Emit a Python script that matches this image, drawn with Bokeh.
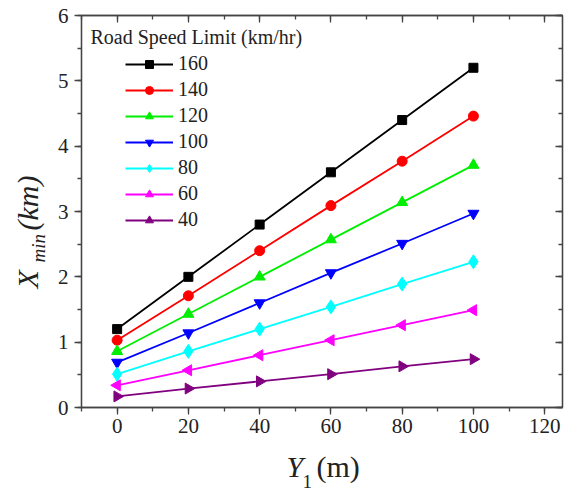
import math
from bokeh.plotting import figure
from bokeh.layouts import column, row
from bokeh.models import (Range1d, LinearAxis, SingleIntervalTicker, Label, Legend, LegendItem,
                          CustomLabelingPolicy)
from bokeh.embed import file_html
from bokeh.resources import INLINE

# ---- data ----
y1_m = [0, 20, 40, 60, 80, 100]
speed_labels = ["160", "140", "120", "100", "80", "60", "40"]
xmin_160 = [1.20, 2.00, 2.80, 3.60, 4.40, 5.20]
xmin_140 = [1.03, 1.71, 2.40, 3.09, 3.77, 4.46]
xmin_120 = [0.86, 1.43, 2.00, 2.57, 3.14, 3.71]
xmin_100 = [0.69, 1.14, 1.60, 2.06, 2.51, 2.97]
xmin_80 = [0.51, 0.86, 1.20, 1.54, 1.89, 2.23]
xmin_60 = [0.34, 0.57, 0.80, 1.03, 1.26, 1.49]
xmin_40 = [0.17, 0.29, 0.40, 0.51, 0.63, 0.74]
series = [xmin_160, xmin_140, xmin_120, xmin_100, xmin_80, xmin_60, xmin_40]
x_ticks_interval = 20
y_ticks_interval = 1

# ---- style ----
colors = ["#000000", "#FF0000", "#00EE00", "#0000FF", "#00FFFF", "#FF00FF", "#800080"]
markers = ["square", "circle", "triangle", "inverted_triangle", "diamond", "triangle", "triangle"]
angles = [0, 0, 0, 0, 0, math.pi / 2, -math.pi / 2]
sizes = [9, 10, 11, 11, 14, 11, 11]
FONT = "Liberation Serif"
AX = "#444444"
TXT = "#222222"

LEFT_W = 50      # width of the strip holding the y-axis title
BOTTOM_H = 45    # height of the strip holding the x-axis title
W, H = 570, 491

p = figure(width=W - LEFT_W, height=H - BOTTOM_H, x_range=Range1d(-10, 125), y_range=Range1d(0, 6),
           output_backend="svg", toolbar_location=None,
           x_axis_type=None, y_axis_type=None,
           min_border_left=31, min_border_right=8, min_border_top=15, min_border_bottom=39)
p.grid.visible = False
p.outline_line_color = AX
p.outline_line_width = 1.3


def make_axis(interval, inward, labels, standoff=5):
    ax = LinearAxis(ticker=SingleIntervalTicker(interval=interval, num_minor_ticks=2))
    ax.axis_line_color = AX
    ax.axis_line_width = 1.3
    ax.major_tick_line_color = AX
    ax.minor_tick_line_color = AX
    ax.major_tick_line_width = 1.3
    ax.minor_tick_line_width = 1.3
    if inward:
        ax.major_tick_in, ax.major_tick_out = 7, 0
        ax.minor_tick_in, ax.minor_tick_out = 4, 0
    else:
        ax.major_tick_in, ax.major_tick_out = 0, 7
        ax.minor_tick_in, ax.minor_tick_out = 0, 4
    if labels:
        ax.major_label_text_font = FONT
        ax.major_label_text_font_size = "21px"
        ax.major_label_text_color = TXT
        ax.major_label_standoff = standoff
    else:
        ax.major_label_policy = CustomLabelingPolicy(code="return false")
        ax.major_label_text_font_size = "1px"
        ax.major_label_standoff = 0
    return ax


p.add_layout(make_axis(x_ticks_interval, False, True, standoff=4), "below")
p.add_layout(make_axis(y_ticks_interval, False, True, standoff=6), "left")
p.add_layout(make_axis(x_ticks_interval, True, False), "above")
p.add_layout(make_axis(y_ticks_interval, True, False), "right")

items = []
for lab, vals, c, m, a, s in zip(speed_labels, series, colors, markers, angles, sizes):
    lr = p.line(y1_m, vals, line_color=c, line_width=1.8)
    sr = p.scatter(y1_m, vals, marker=m, angle=a, size=s, fill_color=c, line_color=c)
    items.append(LegendItem(label=lab, renderers=[lr, sr]))

legend = Legend(items=items, location=(44, 176), padding=0, margin=0, spacing=3,
                glyph_width=48, glyph_height=20, label_height=20, label_standoff=5,
                label_text_font=FONT, label_text_font_size="20px", label_text_color=TXT,
                border_line_alpha=0, background_fill_alpha=0)
p.add_layout(legend)


def canvas_label(x, y, text, size, italic=False, angle=0):
    return Label(x=x, y=y, x_units="canvas", y_units="canvas", text=text, angle=angle,
                 text_font=FONT, text_font_style="italic" if italic else "normal",
                 text_font_size=size, text_color=TXT, text_baseline="alphabetic",
                 text_align="left")


# legend title (inside the frame of the main figure)
p.add_layout(canvas_label(90 - LEFT_W, 36, "Road Speed Limit (km/hr)", "20px"))


def strip(width, height):
    f = figure(width=width, height=height, x_range=Range1d(0, 1), y_range=Range1d(0, 1),
               output_backend="svg", toolbar_location=None, x_axis_type=None, y_axis_type=None,
               min_border=0)
    f.grid.visible = False
    f.outline_line_color = None
    return f


# y axis title: X_min (km), rotated
left = strip(LEFT_W, H - BOTTOM_H)
left.add_layout(canvas_label(26.5, 288, "X", "30px", italic=True, angle=math.pi / 2))
left.add_layout(canvas_label(37.5, 262, "min", "19px", italic=True, angle=math.pi / 2))
left.add_layout(canvas_label(26.5, 230, "(km)", "30px", italic=True, angle=math.pi / 2))

# x axis title: Y_1 (m)
top_of_strip = H - BOTTOM_H
bottom = strip(W, BOTTOM_H)
bottom.add_layout(canvas_label(286, 465.5 - top_of_strip, "Y", "30px", italic=True))
bottom.add_layout(canvas_label(302, 480.5 - top_of_strip, "1", "19px"))
bottom.add_layout(canvas_label(316, 465.5 - top_of_strip, "(m)", "30px"))

layout = column(row(left, p, spacing=0), bottom, spacing=0)
open("out.html", "w").write(file_html(layout, INLINE))
